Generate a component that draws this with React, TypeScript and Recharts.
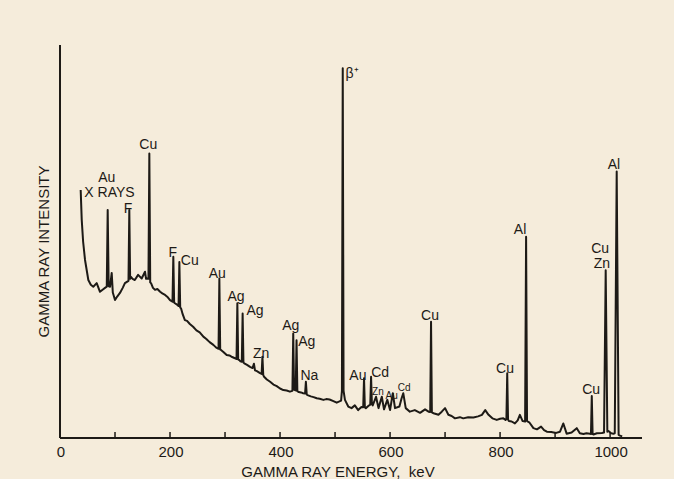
import React from "react";
import { LineChart, Line, XAxis, YAxis, ReferenceDot } from "recharts";

// spectrum: [energy keV, intensity (arbitrary, 0-100)]
const xRayRegion: [number, number][] = [
  [37.6, 63.1], [39.5, 55.5], [42, 50], [45.5, 45.3], [51.5, 40.2], [56, 39],
  [60.5, 38.5], [66.7, 39.4], [72.7, 37.2], [78, 37.8], [81.8, 38.2], [85, 38.5],
  [86.7, 58], [88.5, 38.6], [91, 38.5], [94, 42], [96, 37], [100, 35.1], [104, 36],
  [109, 36.9], [114, 38.2], [118, 39.4], [124.5, 40], [126, 58], [127.5, 40.5],
  [129, 41], [132, 40.5], [136, 40.2], [142, 41.5], [148.5, 40.6], [154.5, 42.3],
  [156.5, 40.5], [159, 40.6], [160.8, 40.5], [162.4, 72.4], [164, 39.6],
  [165.5, 39.4], [169, 38.2], [172.7, 37.7], [177, 37.9], [182, 37.2], [186, 36.8],
  [191, 36.4], [196, 35.8], [200, 35.1], [204.5, 34.7], [206, 46.1], [207.5, 34.5],
  [209, 34.3], [214, 33.8], [215.5, 33.6], [217, 44.8], [218.5, 33.2], [220, 33],
];

const midRegion: [number, number][] = [
  [223, 31.5], [227, 30], [231, 29.8], [236, 29], [242, 28.3], [248, 27.4],
  [254, 26.9], [260.6, 25.8], [266, 25.2], [272, 24.4], [278.8, 23.7], [284, 23],
  [288.2, 22.7], [289.7, 40.6], [291.2, 22.5], [292.7, 22.4], [297, 21.9],
  [303, 21.1], [308, 21], [313, 20.6], [318, 20.3], [320.9, 20.1], [322.4, 34.3],
  [323.9, 20], [326, 19.8], [328, 19.5], [330.5, 19.4], [332, 31.7], [333.5, 19.2],
  [335, 19], [340, 18.6], [345.5, 18.1], [350, 17.8], [352.5, 18.9], [354.5, 17.2],
  [358, 17], [363.6, 16.5], [366.5, 16.3], [368, 20.7], [369.5, 16], [371, 15.6],
  [376, 14.9], [382, 14.3], [388, 13.6], [394, 13.2], [400, 12.6], [406, 12.2],
  [412, 12.1], [418, 11.8], [422.5, 12], [424, 26.6], [425.5, 12.3], [427, 12.2],
  [428.5, 12.1], [430, 24.9], [431.5, 11.9], [434, 11.7], [438, 11.6], [442, 11.4],
  [445.5, 11.3], [447, 14.3], [448.5, 11.1], [450, 10.9], [456, 10.6], [461, 10.4],
  [466.7, 10.1], [472, 10], [478.8, 9.7], [484, 9.9], [490, 9.8], [497, 9.4],
  [503, 9], [508, 9.3], [511, 9.5], [512.5, 12], [514, 94.1], [515.5, 12], [518, 9.7],
];

const annihilationRegion: [number, number][] = [
  [524, 8], [530, 7.6], [536, 8.3], [542, 7.1], [548, 7.9], [551.2, 7.8],
  [552.7, 15.2], [554.2, 7.8], [556, 7.6], [561, 8.2], [564, 8.5], [565.5, 15.6],
  [567, 8.6], [568.5, 8.3], [574.5, 10.5], [579, 7.6], [585, 10.5], [589, 7.3],
  [595, 9.7], [600, 7.1], [605, 11.4], [609, 7.6], [617, 8], [621, 10.1], [624, 11.4],
  [628.5, 7.6], [636, 6.7], [645, 7.1], [654.5, 6.4], [663.6, 7.3], [670, 6.7],
  [673, 6.6], [674.5, 29.6], [676, 6.5], [679, 6.3], [688, 5.9], [694, 6.7],
  [700, 7.6], [706, 5.9], [712, 5.6], [718, 5], [727, 5.3], [733, 5], [742, 5.3],
  [751.5, 5.2], [760, 5.5], [767, 5.9], [773, 7.1], [779, 5.9], [786, 5],
];

const highRegion: [number, number][] = [
  [794, 4.6], [800, 4.9], [806, 5], [810, 4.6], [811.5, 4.8], [813, 16.5],
  [814.5, 4.7], [816, 4.3], [821, 4.2], [827, 3.7], [832, 4.5], [836, 5.9],
  [841, 4.3], [845.5, 4.2], [847.3, 51.2], [849, 4.3], [853, 4], [860.6, 2.5],
  [867, 2.2], [874.5, 2.9], [880, 2], [885, 1.6], [893, 1.5], [902, 1.3], [909, 1.6],
  [915, 3.7], [921, 1.1], [930, 1.4], [939.4, 2.5], [945, 1.2], [951.5, 1],
  [957, 1.2], [963.6, 1.1], [965.2, 1], [966.7, 10.7], [968.2, 1], [969.7, 0.9],
  [976, 1.2], [985, 1.3], [989, 1.4], [992, 42.7], [995, 1.6], [997, 1.8],
  [1002, 1.2], [1006, 1.1], [1008.5, 1.2], [1012, 67.8], [1015.5, 0.8],
  [1018, 0.6], [1022, 0.4],
];

// peak annotations: [text, energy, intensity] at the centre of each label
const peakLabels: [string, number, number][] = [
  ["Au", 84.9, 66.4], ["X RAYS", 90, 62.5], ["F", 123.6, 58.6], ["Cu", 160.5, 74.8],
  ["F", 205, 47.4], ["Cu", 236, 45.3], ["Au", 286, 42.1], ["Ag", 320, 36.1],
  ["Ag", 354.5, 32.6], ["Zn", 365.5, 21.7], ["Ag", 419.4, 28.8], ["Ag", 448.5, 24.8],
  ["Na", 453.3, 16], ["β⁺", 531, 92.8], ["Au", 541.5, 15.9], ["Cd", 582, 16.8],
  ["Cu", 672.7, 31.3], ["Cu", 809, 17.7], ["Al", 836.4, 53.1], ["Cu", 965.5, 12.4],
  ["Cu", 981.8, 48.3], ["Zn", 985, 44.5], ["Al", 1007, 69.7],
];

const smallPeakLabels: [string, number, number][] = [
  ["Zn", 578, 11.8], ["Au", 603, 10.9], ["Cd", 625.5, 12.8],
];

const energyTicks = [0, 100, 200, 300, 400, 500, 600, 700, 800, 900, 1000];

const spectrum = [...xRayRegion, ...midRegion, ...annihilationRegion, ...highRegion].map(
  ([energy, intensity]) => ({ energy, intensity })
);

const INK = "#1d1a16";
const PAPER = "#f5ecdb";
const FONT = '"Liberation Sans", Arial, Helvetica, sans-serif';

const EnergyTick = (props: any) => {
  const { x, y, payload } = props;
  const v = payload.value;
  return (
    <g>
      {v > 0 && <line x1={x} x2={x} y1={y} y2={y - 6} stroke={INK} strokeWidth={1.5} />}
      {v % 200 === 0 && (
        <text x={x + 1} y={y + 19} textAnchor="middle" fill={INK} fontSize={15} fontFamily={FONT}>
          {v}
        </text>
      )}
    </g>
  );
};

const XTitle = (props: any) => {
  const { x, y, width } = props.viewBox;
  return (
    <text x={x + width / 2 - 13} y={y + 39} textAnchor="middle" fill={INK} fontSize={15} fontFamily={FONT}>
      GAMMA RAY ENERGY,{"\u00a0\u00a0"}keV
    </text>
  );
};

const YTitle = (props: any) => {
  const { x, y, width, height } = props.viewBox;
  const cx = x + width - 16.5;
  const cy = y + height / 2 + 10;
  return (
    <text
      x={cx}
      y={cy}
      transform={`rotate(-90 ${cx} ${cy})`}
      textAnchor="middle"
      dominantBaseline="central"
      fill={INK}
      fontSize={15}
      fontFamily={FONT}
    >
      GAMMA RAY INTENSITY
    </text>
  );
};

export default function App() {
  return (
    <div style={{ position: "absolute", left: 0, top: 0, width: 674, height: 479, background: PAPER }}>
      <LineChart width={674} height={479} data={spectrum} margin={{ top: 45, right: 32, bottom: 0, left: 59 }}>
        <XAxis
          type="number"
          dataKey="energy"
          domain={[0, 1058]}
          ticks={energyTicks}
          interval={0}
          allowDataOverflow
          height={41}
          tickSize={0}
          tickMargin={0}
          tickLine={false}
          tick={<EnergyTick />}
          axisLine={{ stroke: INK, strokeWidth: 2 }}
          label={(p: any) => <XTitle {...p} />}
        />
        <YAxis
          type="number"
          domain={[0, 100]}
          width={1}
          tick={false}
          tickLine={false}
          allowDataOverflow
          axisLine={{ stroke: INK, strokeWidth: 2 }}
          label={(p: any) => <YTitle {...p} />}
        />
        <Line
          type="linear"
          dataKey="intensity"
          stroke={INK}
          strokeWidth={2}
          strokeLinejoin="round"
          dot={false}
          activeDot={false}
          isAnimationActive={false}
        />
        {peakLabels.map(([text, e, v], i) => (
          <ReferenceDot
            key={`pl-${i}`}
            x={e}
            y={v}
            r={0}
            fill="none"
            stroke="none"
            label={{ value: text, position: "center", fill: INK, fontSize: 14, fontFamily: FONT }}
          />
        ))}
        {smallPeakLabels.map(([text, e, v], i) => (
          <ReferenceDot
            key={`sl-${i}`}
            x={e}
            y={v}
            r={0}
            fill="none"
            stroke="none"
            label={{ value: text, position: "center", fill: INK, fontSize: 10, fontFamily: FONT }}
          />
        ))}
      </LineChart>
    </div>
  );
}
